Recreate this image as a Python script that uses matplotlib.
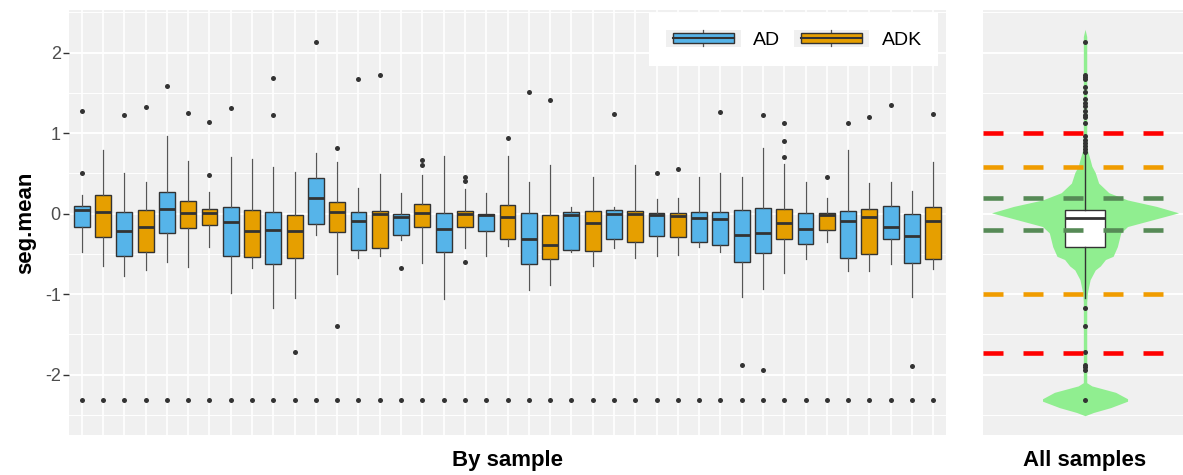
import matplotlib
matplotlib.use("Agg")
import matplotlib.pyplot as plt
from matplotlib.patches import Rectangle, Patch
from matplotlib.lines import Line2D
from matplotlib.legend_handler import HandlerBase

plt.rcParams['font.family'] = ['Liberation Sans', 'DejaVu Sans']
plt.rcParams['lines.scale_dashes'] = False
plt.rcParams['axes.unicode_minus'] = False

# ---------------- data ----------------
groups = ["AD", "ADK", "AD", "ADK", "AD", "ADK", "ADK", "AD", "ADK", "AD",
          "ADK", "AD", "ADK", "AD", "ADK", "AD", "ADK", "AD", "ADK", "AD",
          "ADK", "AD", "ADK", "AD", "ADK", "AD", "ADK", "AD", "ADK", "AD",
          "AD", "AD", "AD", "ADK", "AD", "ADK", "AD", "ADK", "AD", "AD", "ADK"]
whislo = [-0.476, -0.65, -0.77, -0.70, -0.60, -0.66, -0.41, -0.98, -0.68, -1.17,
          -1.05, -0.27, -0.75, -0.546, -0.52, -0.33, -0.61, -1.06, -0.43, -0.53,
          -0.40, -0.95, -0.89, -0.48, -0.65, -0.43, -0.546, -0.525, -0.51, -0.41,
          -0.48, -1.04, -0.93, -0.74, -0.567, -0.35, -0.716, -0.71, -0.63, -1.04, -0.69]
q1 = [-0.165, -0.285, -0.53, -0.48, -0.236, -0.174, -0.14, -0.525, -0.54, -0.62,
      -0.554, -0.124, -0.23, -0.45, -0.43, -0.27, -0.17, -0.48, -0.165, -0.22,
      -0.31, -0.62, -0.56, -0.447, -0.46, -0.32, -0.35, -0.277, -0.285, -0.356,
      -0.39, -0.596, -0.49, -0.32, -0.376, -0.20, -0.554, -0.50, -0.32, -0.61, -0.56]
med = [0.045, 0.017, -0.22, -0.165, 0.058, 0.012, 0.004, -0.10, -0.21, -0.20,
       -0.215, 0.19, 0.025, -0.09, 0.0, -0.04, 0.012, -0.19, -0.008, -0.02,
       -0.04, -0.31, -0.39, -0.02, -0.12, 0.0, -0.008, -0.02, -0.03, -0.058,
       -0.07, -0.27, -0.236, -0.12, -0.186, -0.02, -0.095, -0.045, -0.17, -0.28, -0.095]
q3 = [0.10, 0.23, 0.02, 0.045, 0.27, 0.16, 0.054, 0.083, 0.04, 0.02,
      -0.02, 0.44, 0.15, 0.025, 0.03, 0.0, 0.124, 0.012, 0.037, 0.0,
      0.11, 0.004, -0.012, 0.025, 0.03, 0.04, 0.037, 0.008, 0.004, 0.017,
      0.025, 0.045, 0.066, 0.058, 0.004, 0.004, 0.03, 0.058, 0.095, -0.008, 0.083]
whishi = [0.23, 0.79, 0.50, 0.39, 0.96, 0.65, 0.27, 0.70, 0.68, 0.58,
          0.52, 0.75, 0.645, 0.32, 0.49, 0.26, 0.48, 0.71, 0.30, 0.26,
          0.71, 0.39, 0.60, 0.087, 0.455, 0.08, 0.60, 0.186, 0.20, 0.455,
          0.50, 0.45, 0.81, 0.62, 0.39, 0.20, 0.79, 0.38, 0.39, 0.28, 0.645]
fliers = [[0.50, 1.27, -2.32], [-2.32], [1.23, -2.32], [1.32, -2.32], [1.58, -2.32],
          [1.25, -2.32], [0.48, 1.14, -2.32], [1.31, -2.32], [-2.32], [1.23, 1.69, -2.32],
          [-1.72, -2.32], [2.13, -2.32], [0.81, -1.39, -2.32], [1.675, -2.32], [1.72, -2.32],
          [-0.68, -2.32], [0.61, 0.67, -2.32], [-2.32], [0.405, 0.455, -0.60, -2.32], [-2.32],
          [0.94, -2.32], [1.51, -2.32], [1.41, -2.32], [-2.32], [-2.32],
          [1.24, -2.32], [-2.32], [0.50, -2.32], [0.55, -2.32], [-2.32],
          [1.26, -2.32], [-1.88, -2.32], [1.22, -1.94, -2.32], [0.70, 0.90, 1.12, -2.32], [-2.32],
          [0.46, -2.32], [1.125, -2.32], [1.20, -2.32], [1.35, -2.32], [-1.89, -2.32], [1.24, -2.32]]

# all samples panel
all_box = dict(whislo=-1.05, q1=-0.418, med=-0.053, q3=0.05, whishi=0.74)
all_fliers = [2.13, 1.72, 1.70, 1.675, 1.57, 1.51, 1.42, 1.38, 1.34, 1.28, 1.23,
              1.20, 1.13, 0.96, 0.92, 0.88, 0.84, 0.80, 0.76,
              -1.17, -1.39, -1.72, -1.88, -1.91, -1.94, -2.32]
violin_y = [2.29, 2.20, 1.00, 0.80, 0.67, 0.59, 0.51, 0.38, 0.26, 0.17, 0.09, 0.01,
            -0.075, -0.16, -0.24, -0.41, -0.53, -0.57, -0.65, -0.70, -0.82, -0.98,
            -1.10, -2.10, -2.14, -2.22, -2.30, -2.33, -2.41, -2.47, -2.51]
violin_half = [0.0, 0.01, 0.01, 0.012, 0.03, 0.04, 0.06, 0.08, 0.14, 0.25, 0.42, 0.55,
               0.40, 0.25, 0.21, 0.19, 0.165, 0.12, 0.09, 0.06, 0.03, 0.014,
               0.01, 0.01, 0.04, 0.18, 0.25, 0.25, 0.15, 0.05, 0.0]
cut_levels = [1.0, 0.585, 0.2, -0.2, -1.0, -1.737]
cut_colors = ["#FF0000", "#F09C00", "#568A56", "#568A56", "#F09C00", "#FF0000"]

colors = {"AD": "#56B4E9", "ADK": "#E69F00"}
panel_bg = "#F0F0F0"
ylim = (-2.75, 2.53)

# ---------------- figure ----------------
W, H = 1183, 475
fig = plt.figure(figsize=(W / 100, H / 100), dpi=100)
ax = fig.add_axes([69 / W, 40 / H, 877 / W, 425 / H])
ax2 = fig.add_axes([983 / W, 40 / H, 200 / W, 425 / H])

for a in (ax, ax2):
    a.set_facecolor(panel_bg)
    for s in a.spines.values():
        s.set_visible(False)
    a.set_ylim(*ylim)
    a.set_yticks([-2, -1, 0, 1, 2])
    a.set_yticks([-2.5, -1.5, -0.5, 0.5, 1.5, 2.5], minor=True)
    a.grid(which='major', axis='y', color='white', lw=1.4)
    a.grid(which='minor', axis='y', color='white', lw=0.7)
    a.set_axisbelow(True)

positions = list(range(1, len(groups) + 1))
stats = [dict(med=med[i], q1=q1[i], q3=q3[i], whislo=whislo[i], whishi=whishi[i],
              fliers=fliers[i]) for i in range(len(groups))]
bp = ax.bxp(stats, positions=positions, widths=0.75, patch_artist=True, showcaps=False,
            boxprops=dict(edgecolor='#333333', lw=1.0),
            medianprops=dict(color='#333333', lw=2.0, solid_capstyle='butt'),
            whiskerprops=dict(color='#555555', lw=0.9),
            flierprops=dict(marker='o', markersize=3.6, markerfacecolor='#333333',
                            markeredgecolor='none'))
for patch, g in zip(bp['boxes'], groups):
    patch.set_facecolor(colors[g])

ax.set_xlim(0.4, len(groups) + 0.6)
ax.set_xticks(positions)
ax.set_xticklabels([])
ax.grid(which='major', axis='x', color='white', lw=1.2)
ax.tick_params(axis='x', length=0)
ax.tick_params(axis='y', which='major', length=4, width=1, color='#333333',
               labelsize=13, labelcolor='#4D4D4D', pad=2)
ax.tick_params(axis='y', which='minor', length=0)
ax.set_xlabel("By sample", fontsize=16, fontweight='bold', va='center')
ax.xaxis.set_label_coords(0.5, -0.059)
ax.set_ylabel("seg.mean", fontsize=16, fontweight='bold', labelpad=6)


# legend with box-shaped keys
class BoxKeyHandler(HandlerBase):
    def create_artists(self, legend, orig_handle, xdescent, ydescent, width, height,
                       fontsize, trans):
        x0, y0 = -xdescent, -ydescent
        bg = Rectangle((x0, y0), width, height, facecolor=panel_bg, edgecolor='none',
                       transform=trans)
        wl = Line2D([x0 + 0.5 * width] * 2, [y0 + 0.05 * height, y0 + 0.95 * height],
                    color='#555555', lw=0.9, transform=trans)
        bx = Rectangle((x0 + 0.1 * width, y0 + 0.22 * height), 0.8 * width, 0.56 * height,
                       facecolor=orig_handle.get_facecolor(), edgecolor='#333333', lw=1.0,
                       transform=trans)
        md = Line2D([x0 + 0.1 * width, x0 + 0.9 * width], [y0 + 0.5 * height] * 2,
                    color='#333333', lw=1.5, transform=trans)
        return [bg, wl, bx, md]


handles = [Patch(facecolor=colors["AD"]), Patch(facecolor=colors["ADK"])]
leg = ax.legend(handles, ["AD", "ADK"], handler_map={Patch: BoxKeyHandler()},
                loc='upper right', bbox_to_anchor=(0.991, 0.993), borderaxespad=0,
                ncol=2, fontsize=14, handlelength=3.9, handleheight=1.03,
                handletextpad=0.62, columnspacing=0.67, borderpad=0.85,
                frameon=True, fancybox=False, framealpha=1)
leg.get_frame().set_facecolor('white')
leg.get_frame().set_edgecolor('none')

# ---------------- all samples panel ----------------
ax2.set_xlim(0.4, 1.576)
left = [1 - h for h in violin_half]
right = [1 + h for h in violin_half]
ax2.fill_betweenx(violin_y, left, right, color='#90EE90', lw=0, zorder=1)
ax2.bxp([dict(all_box, fliers=all_fliers)], positions=[1], widths=0.24,
        patch_artist=True, showcaps=False,
        boxprops=dict(facecolor='white', edgecolor='#333333', lw=1.0),
        medianprops=dict(color='#333333', lw=2.0, solid_capstyle='butt'),
        whiskerprops=dict(color='#333333', lw=1.0),
        flierprops=dict(marker='o', markersize=3.6, markerfacecolor='#333333',
                        markeredgecolor='none'),
        zorder=2)
for yv, c in zip(cut_levels, cut_colors):
    ax2.axhline(yv, color=c, lw=3.3, dashes=(14.4, 14.4), dash_capstyle='butt', zorder=3)
ax2.set_xticks([])
ax2.tick_params(axis='y', which='both', length=0, labelleft=False)
ax2.set_xlabel("All samples", fontsize=16, fontweight='bold', va='center')
ax2.xaxis.set_label_coords(0.51, -0.059)

fig.savefig("out.png", dpi=100, facecolor='white')
